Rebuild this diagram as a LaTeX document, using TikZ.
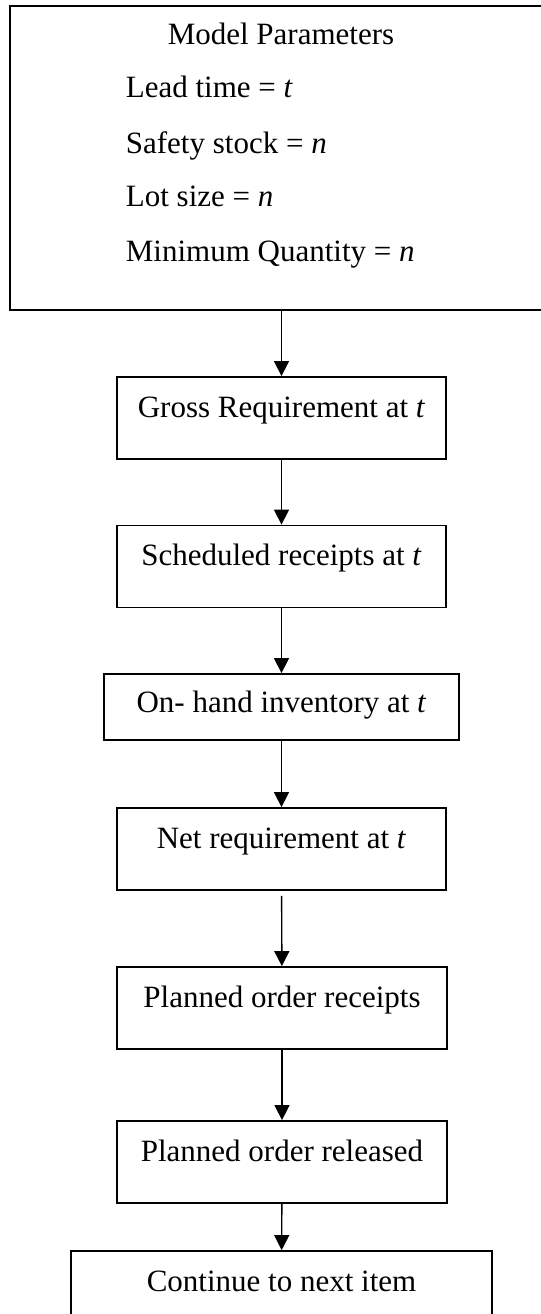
\documentclass[tikz,border=0pt]{standalone}
\usepackage{fontspec}
\setmainfont{Liberation Serif}
\usepackage{tikz}
\usetikzlibrary{arrows.meta, positioning}

\begin{document}
\begin{tikzpicture}[
  x=0.5pt,
  y=-0.5pt,
  font=\fontsize{15.5}{18}\selectfont,
  line width=0.9pt,
  stepbox/.style={draw, inner sep=0pt, text height=20pt, text depth=21pt, minimum width=164.5pt},
  parline/.style={anchor=base west, inner sep=0pt},
  flow/.style={->, line width=0.7pt},
  >={Triangle[length=7.5pt, width=7.5pt]}
]

\useasboundingbox (0,0) rectangle (541,1314);
\clip (0,0) rectangle (541,1314);

\node[draw, inner sep=0pt, minimum width=280pt, minimum height=152pt] (params) at (290,158) {};

\node[anchor=base, inner sep=0pt] (partitle) at (281,44) {Model Parameters};
\node[parline] (lead)   at (125,97)  {Lead time = \textit{t}};
\node[parline] (safety) at (125,153) {Safety stock = \textit{n}};
\node[parline] (lot)    at (125,206) {Lot size = \textit{n}};
\node[parline] (minq)   at (125,261) {Minimum Quantity = \textit{n}};

\node[stepbox] (gross)   at (281.5,418)   {Gross Requirement at \textit{t}};
\node[stepbox] (sched)   at (281.5,566.5) {Scheduled receipts at \textit{t}};
\node[stepbox, text height=19pt, text depth=14pt, minimum width=177.5pt]
               (onhand)  at (281.5,707)   {On- hand inventory at \textit{t}};
\node[stepbox] (net)     at (281.5,849)   {Net requirement at \textit{t}};
\node[stepbox, minimum width=165pt] (porec) at (282,1008) {Planned order receipts};
\node[stepbox, minimum width=165pt] (porel) at (282,1162) {Planned order released};
\node[stepbox, minimum width=210.5pt] (nextitem) at (281.5,1292) {Continue to next item};

\draw[flow] (params.south -| gross.north) -- (gross.north);
\draw[flow] (gross) -- (sched);
\draw[flow] (sched) -- (onhand);
\draw[flow] (onhand) -- (net);
\draw[flow, shorten <=2.5pt] (net) -- (porec);
\draw[flow] (porec) -- (porel);
\draw[flow] (porel) -- (nextitem);

\end{tikzpicture}
\end{document}
